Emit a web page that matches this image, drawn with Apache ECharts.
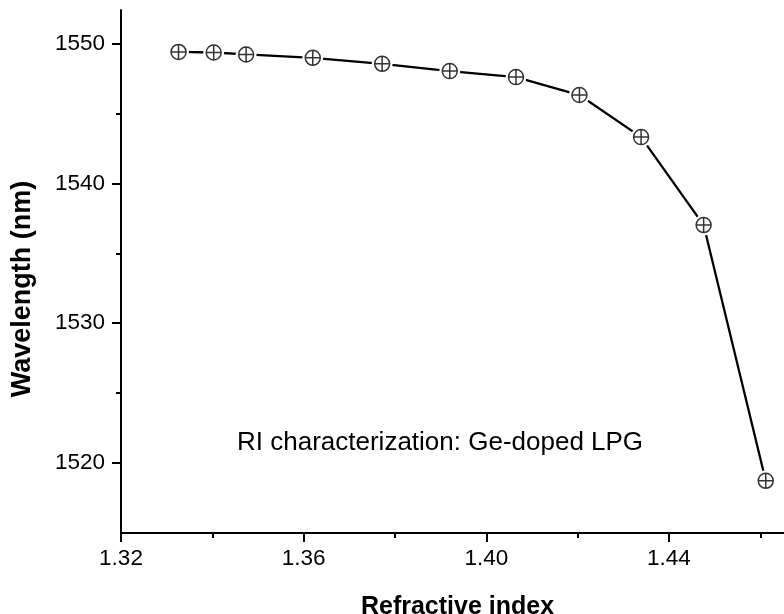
<!DOCTYPE html>
<html>
<head>
<meta charset="utf-8">
<script src="https://cdn.jsdelivr.net/npm/echarts@6/dist/echarts.min.js"></script>
<style>
  html, body { margin: 0; padding: 0; background: #fff; }
  #chart { width: 784px; height: 614px; }
</style>
</head>
<body>
<div id="chart"></div>
<script>
// Data
var refractiveIndex = [1.3326, 1.3403, 1.3474, 1.3620, 1.3772, 1.3920, 1.4065, 1.4204, 1.4339, 1.4476, 1.4612];
var wavelength = [1549.40, 1549.36, 1549.22, 1548.98, 1548.55, 1548.03, 1547.60, 1546.32, 1543.31, 1537.02, 1518.73];

// Tick values
var xMajorTicks = [1.32, 1.36, 1.40, 1.44];
var xMinorTicks = [1.34, 1.38, 1.42, 1.46];
var yMajorTicks = [1520, 1530, 1540, 1550];
var yMinorTicks = [1525, 1535, 1545];

var xRange = [1.32, 1.4652];
var yRange = [1515, 1552.4];

var xTitle = 'Refractive index';
var yTitle = 'Wavelength (nm)';
var note = 'RI characterization: Ge-doped LPG';

var FONT = 'Liberation Sans, Arial, sans-serif';
var points = refractiveIndex.map(function (x, i) { return [x, wavelength[i]]; });

var chart = echarts.init(document.getElementById('chart'), null, { renderer: 'canvas' });

var markerPath = 'path://M0,-10 A10,10 0 1,1 0,10 A10,10 0 1,1 0,-10 Z M-10,0 L10,0 M0,-10 L0,10';

chart.setOption({
  backgroundColor: '#ffffff',
  animation: false,
  grid: { left: 121, top: 10, right: 0, bottom: 81, containLabel: false, outerBoundsMode: 'none' },
  xAxis: [
    {
      type: 'value', min: xRange[0], max: xRange[1],
      axisLine: { show: true, onZero: false, lineStyle: { color: '#000', width: 2 } },
      axisTick: { show: true, inside: false, length: 9, customValues: xMajorTicks, lineStyle: { color: '#000', width: 2 } },
      axisLabel: {
        customValues: xMajorTicks, margin: 14, color: '#000', fontSize: 22.5, fontFamily: FONT,
        formatter: function (v) { return v.toFixed(2); }
      },
      splitLine: { show: false },
      name: xTitle, nameLocation: 'middle', nameGap: 62,
      nameTextStyle: { color: '#000', fontSize: 25, fontWeight: 'bold', fontFamily: FONT, padding: [0, 0, 0, 10] }
    },
    {
      type: 'value', min: xRange[0], max: xRange[1], position: 'bottom',
      axisLine: { show: false },
      axisTick: { show: true, inside: false, length: 5, customValues: xMinorTicks, lineStyle: { color: '#000', width: 2 } },
      axisLabel: { show: false },
      splitLine: { show: false }
    }
  ],
  yAxis: [
    {
      type: 'value', min: yRange[0], max: yRange[1],
      axisLine: { show: true, onZero: false, lineStyle: { color: '#000', width: 2 } },
      axisTick: { show: true, inside: false, length: 9, customValues: yMajorTicks, lineStyle: { color: '#000', width: 2 } },
      axisLabel: {
        customValues: yMajorTicks, margin: 16, color: '#000', fontSize: 22.5, fontFamily: FONT,
        formatter: function (v) { return String(v); }
      },
      splitLine: { show: false }
    },
    {
      type: 'value', min: yRange[0], max: yRange[1], position: 'left',
      axisLine: { show: false },
      axisTick: { show: true, inside: false, length: 5, customValues: yMinorTicks, lineStyle: { color: '#000', width: 2 } },
      axisLabel: { show: false },
      splitLine: { show: false }
    }
  ],
  graphic: [
    {
      type: 'text', x: 23, y: 289, rotation: Math.PI / 2,
      style: { text: yTitle, fill: '#000', font: 'bold 27px ' + FONT, textAlign: 'center', textVerticalAlign: 'middle' }
    },
    {
      type: 'text', x: 237, y: 443,
      style: { text: note, fill: '#000', font: '26px ' + FONT, textAlign: 'left', textVerticalAlign: 'middle' }
    }
  ],
  series: [
    {
      type: 'line', data: points, xAxisIndex: 0, yAxisIndex: 0,
      symbol: 'circle', symbolSize: 21,
      itemStyle: { color: '#fff', borderWidth: 0 },
      lineStyle: { color: '#000', width: 2.3 },
      z: 2
    },
    {
      type: 'scatter', data: points, xAxisIndex: 0, yAxisIndex: 0,
      symbol: markerPath, symbolSize: 15,
      itemStyle: { color: '#fff', borderColor: '#000', borderWidth: 1.5 },
      z: 3
    }
  ]
});
</script>
</body>
</html>
